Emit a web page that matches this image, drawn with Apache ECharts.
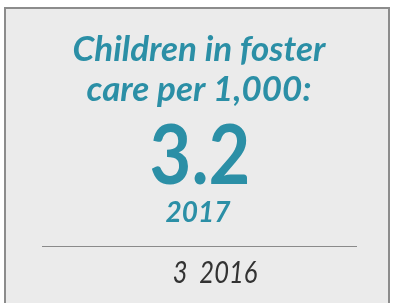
<!DOCTYPE html>
<html>
<head>
<meta charset="utf-8">
<script src="https://cdn.jsdelivr.net/npm/echarts@6/dist/echarts.min.js"></script>
<style>
  html, body { margin: 0; padding: 0; background: #fff; }
  #chart { width: 393px; height: 303px; }
</style>
</head>
<body>
<div id="chart"></div>
<script>
  // figures shown on the card
  var titleLines = ['Children in foster', 'care per 1,000:']
  var currentValue = [3.2]
  var currentYear = [2017]
  var previousValue = [3]
  var previousYear = [2016]

  var teal = '#2b8fa6'
  var chart = echarts.init(document.getElementById('chart'), null, { renderer: 'canvas' })

  chart.setOption({
    animation: false,
    graphic: [
      {
        type: 'rect',
        shape: { x: 5, y: 8, width: 384, height: 300 },
        style: { fill: '#ebebeb', stroke: '#8c8c8c', lineWidth: 2 }
      },
      {
        type: 'text',
        x: 199, y: 50,
        style: {
          text: titleLines[0], fill: teal, align: 'center', verticalAlign: 'middle',
          font: 'italic bold 35px Lato'
        }
      },
      {
        type: 'text',
        x: 199, y: 90,
        style: {
          text: titleLines[1], fill: teal, align: 'center', verticalAlign: 'middle',
          font: 'italic bold 35px Lato'
        }
      },
      {
        type: 'text',
        x: 200, y: 158,
        scaleX: 0.88,
        style: {
          text: currentValue[0].toFixed(1), fill: teal, align: 'center', verticalAlign: 'middle',
          font: 'bold 82px Lato'
        }
      },
      {
        type: 'text',
        x: 198, y: 213,
        style: {
          text: String(currentYear[0]), fill: teal, align: 'center', verticalAlign: 'middle',
          font: 'italic bold 28px Lato'
        }
      },
      {
        type: 'line',
        shape: { x1: 42, y1: 246.5, x2: 357, y2: 246.5 },
        style: { stroke: '#8a8a8a', lineWidth: 1 }
      },
      {
        type: 'text',
        x: 215, y: 273,
        scaleX: 0.85,
        style: {
          text: previousValue[0] + '  ' + previousYear[0], fill: '#333', align: 'center', verticalAlign: 'middle',
          font: 'italic 30px Lato'
        }
      }
    ]
  })
</script>
</body>
</html>
